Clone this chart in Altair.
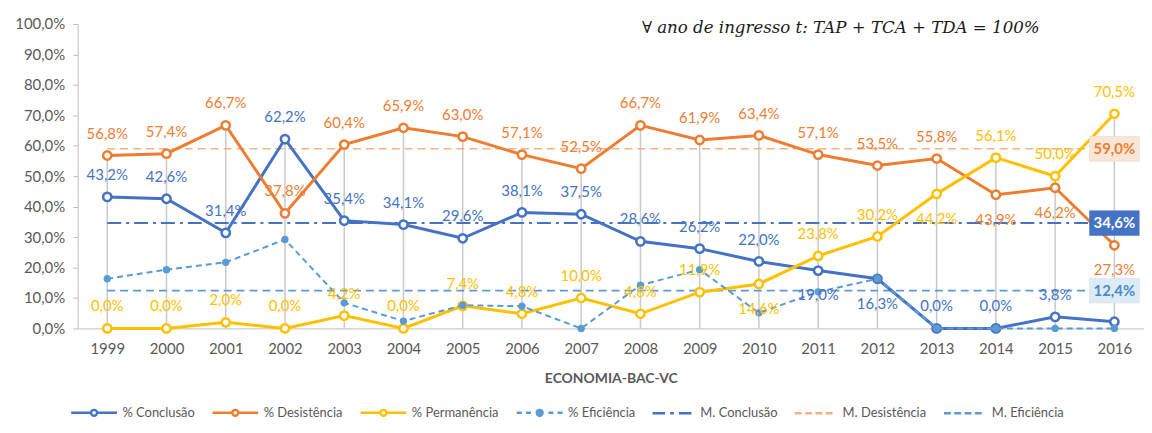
import altair as alt
import pandas as pd

anos = [str(a) for a in range(1999, 2017)]
conclusao = [43.2, 42.6, 31.4, 62.2, 35.4, 34.1, 29.6, 38.1, 37.5, 28.6, 26.2, 22.0, 19.0, 16.3, 0.0, 0.0, 3.8, 2.2]
desistencia = [56.8, 57.4, 66.7, 37.8, 60.4, 65.9, 63.0, 57.1, 52.5, 66.7, 61.9, 63.4, 57.1, 53.5, 55.8, 43.9, 46.2, 27.3]
permanencia = [0.0, 0.0, 2.0, 0.0, 4.2, 0.0, 7.4, 4.8, 10.0, 4.8, 11.9, 14.6, 23.8, 30.2, 44.2, 56.1, 50.0, 70.5]
eficiencia = [16.3, 19.3, 21.7, 29.2, 8.4, 2.4, 7.6, 7.3, 0.0, 14.2, 19.3, 5.1, 12.0, 16.3, 0.0, 0.0, 0.0, 0.0]
medias = [34.6, 59.0, 12.4]

# label placement: a = above, b = below, "" = no label
pos_conclusao = ["a"] * 12 + ["b", "b", "a", "a", "a", ""]
pos_desistencia = ["a"] * 15 + ["b", "b", "b"]
pos_permanencia = ["a"] * 11 + ["b", "a", "a", "b", "a", "a", "a"]

nomes = ["% Conclusão", "% Desistência", "% Permanência", "% Eficiência",
         "M. Conclusão", "M. Desistência", "M. Eficiência"]
cores = ["#4472C4", "#ED7D31", "#FFC000", "#5B9BD5", "#4472C4", "#F4B183", "#5B9BD5"]
larguras = [3, 3, 3, 2, 2, 1.6, 1.6]
tracos = [None, None, None, [6, 4], [14, 5, 3, 5], [8, 5], [8, 5]]
caixa_fundo = ["#4472C4", "#FBE5D6", "#DDEBF7"]
caixa_texto = ["#FFFFFF", "#ED7D31", "#4A8AC9"]
formula = "∀ ano de ingresso t: TAP + TCA + TDA = 100%"

series_vals = [conclusao, desistencia, permanencia, eficiencia]
rows = []
for nome, vals in zip(nomes[:4], series_vals):
    for a, v in zip(anos, vals):
        rows.append({"ano": a, "serie": nome, "valor": v})
for nome, m in zip(nomes[4:], medias):
    for a in anos:
        rows.append({"ano": a, "serie": nome, "valor": m})
df = pd.DataFrame(rows)

lab_rows = []
for nome, vals, pos in zip(nomes[:3], series_vals[:3], [pos_conclusao, pos_desistencia, pos_permanencia]):
    for a, v, p in zip(anos, vals, pos):
        lab_rows.append({"ano": a, "serie": nome, "valor": v, "pos": p})
df_lab = pd.DataFrame(lab_rows)

df_topo = pd.DataFrame({"ano": anos, "c": conclusao, "d": desistencia, "p": permanencia})

df_medias = pd.DataFrame({"ano": [anos[-1]] * 3, "serie": nomes[4:], "valor": medias})

FONT = "Lato"
fmt = "replace(format(datum.valor, '.1f'), '.', ',') + '%'"

X = alt.X("ano:O", title="ECONOMIA-BAC-VC",
          scale=alt.Scale(type="point", padding=0.5),
          axis=alt.Axis(labelAngle=0, ticks=False, domainColor="#BFBFBF", domainWidth=1,
                        labelFont=FONT, labelFontSize=15, labelColor="#595959", labelPadding=13,
                        titleFont=FONT, titleFontSize=14, titleFontWeight="bold",
                        titleColor="#595959", titlePadding=15, grid=False))


def Y(field):
    return alt.Y(f"{field}:Q", title=None,
                 scale=alt.Scale(domain=[0, 100], nice=False, zero=True),
                 axis=alt.Axis(values=list(range(0, 101, 10)),
                               labelExpr="replace(format(datum.value, '.1f'), '.', ',') + '%'",
                               tickSize=5, tickColor="#BFBFBF", domainColor="#BFBFBF",
                               labelFont=FONT, labelFontSize=15, labelColor="#595959",
                               labelPadding=8, grid=False))


layers = []

# drop lines
layers.append(
    alt.Chart(df_topo).transform_calculate(topo="max(datum.c, datum.d, datum.p)")
    .mark_rule(color="#C9C9C9", strokeWidth=1.5)
    .encode(x=X, y=Y("topo"), y2=alt.datum(0))
)

# mean lines
for i in range(4, 7):
    layers.append(
        alt.Chart(df).transform_filter(alt.datum.serie == nomes[i])
        .mark_line(color=cores[i], strokeWidth=larguras[i], strokeDash=tracos[i])
        .encode(x=X, y=Y("valor"))
    )

# series lines and points
for i in range(4):
    kw = dict(color=cores[i], strokeWidth=larguras[i])
    if tracos[i]:
        kw["strokeDash"] = tracos[i]
    layers.append(
        alt.Chart(df).transform_filter(alt.datum.serie == nomes[i])
        .mark_line(**kw).encode(x=X, y=Y("valor"))
    )
    if i < 3:
        pts = alt.Chart(df).transform_filter(alt.datum.serie == nomes[i]).mark_point(
            shape="circle", filled=False, fill="white", stroke=cores[i],
            strokeWidth=2.5, size=70, opacity=1)
    else:
        pts = alt.Chart(df).transform_filter(alt.datum.serie == nomes[i]).mark_circle(
            color=cores[i], size=55, opacity=1)
    layers.append(pts.encode(x=X, y=Y("valor")))

# data labels
for i in range(3):
    for p, dy in [("a", -22), ("b", 25)]:
        layers.append(
            alt.Chart(df_lab)
            .transform_filter((alt.datum.serie == nomes[i]) & (alt.datum.pos == p))
            .transform_calculate(rotulo=fmt)
            .mark_text(font=FONT, fontSize=15, color=cores[i], dy=dy, baseline="middle")
            .encode(x=X, y=Y("valor"), text="rotulo:N")
        )

# mean boxes
rect_path = "M-1,-0.5L1,-0.5L1,0.5L-1,0.5Z"
for j in range(3):
    base = alt.Chart(df_medias).transform_filter(alt.datum.serie == nomes[4 + j])
    layers.append(
        base.mark_point(shape=rect_path, filled=True, fill=caixa_fundo[j], size=2500, opacity=1,
                        stroke="#D9D9D9" if j != 0 else caixa_fundo[j], strokeWidth=0.5)
        .encode(x=X, y=Y("valor"))
    )
    layers.append(
        base.transform_calculate(rotulo=fmt)
        .mark_text(font=FONT, fontSize=15, fontWeight="bold", color=caixa_texto[j], baseline="middle")
        .encode(x=X, y=Y("valor"), text="rotulo:N")
    )

# formula annotation
layers.append(
    alt.Chart(pd.DataFrame({"t": [formula]}))
    .mark_text(font="DejaVu Serif", fontStyle="italic", fontSize=16.7, color="#1A1A1A",
               align="right", baseline="alphabetic")
    .encode(x=alt.value(967), y=alt.value(9), text="t:N")
)

# legend (custom symbols)
circ = "M-0.13,0A0.13,0.13 0 1,1 0.13,0A0.13,0.13 0 1,1 -0.13,0Z"
dot = circ + "M-0.06,0A0.06,0.06 0 1,1 0.06,0A0.06,0.06 0 1,1 -0.06,0Z"
solid_open = "M-1,0L-0.13,0M0.13,0L1,0" + circ
dashed_dot = "M-1,0L-0.78,0M-0.6,0L-0.38,0M0.38,0L0.6,0M0.78,0L1,0" + dot
dash_dot = "M-0.85,0L-0.3,0M-0.08,0L0.08,0M0.3,0L0.85,0"
dashed = "M-0.85,0L-0.55,0M-0.4,0L-0.1,0M0.05,0L0.35,0M0.5,0L0.8,0"
simbolos = [solid_open, solid_open, solid_open, dashed_dot, dash_dot, dashed, dashed]

leg = alt.Legend(title=None, orient="none", legendX=-8, legendY=366, direction="horizontal",
                 columns=7, symbolSize=2116, symbolStrokeWidth=2.4, labelFont=FONT,
                 labelFontSize=13, labelColor="#595959", labelOffset=4, columnPadding=12,
                 labelLimit=200)
layers.append(
    alt.Chart(df).transform_filter("false")
    .mark_point(filled=False, fill="white", strokeWidth=2.4, opacity=1)
    .encode(x=X, y=Y("valor"),
            color=alt.Color("serie:N", scale=alt.Scale(domain=nomes, range=cores), legend=leg),
            shape=alt.Shape("serie:N", scale=alt.Scale(domain=nomes, range=simbolos), legend=leg))
)

chart = alt.layer(*layers).properties(
    width=1072, height=306,
    padding={"left": 70, "top": 15, "right": 0, "bottom": 91},
    autosize=alt.AutoSizeParams(type="none"),
).configure_view(stroke=None)

chart.save("out.html", embed_options={"renderer": "svg", "actions": False})
